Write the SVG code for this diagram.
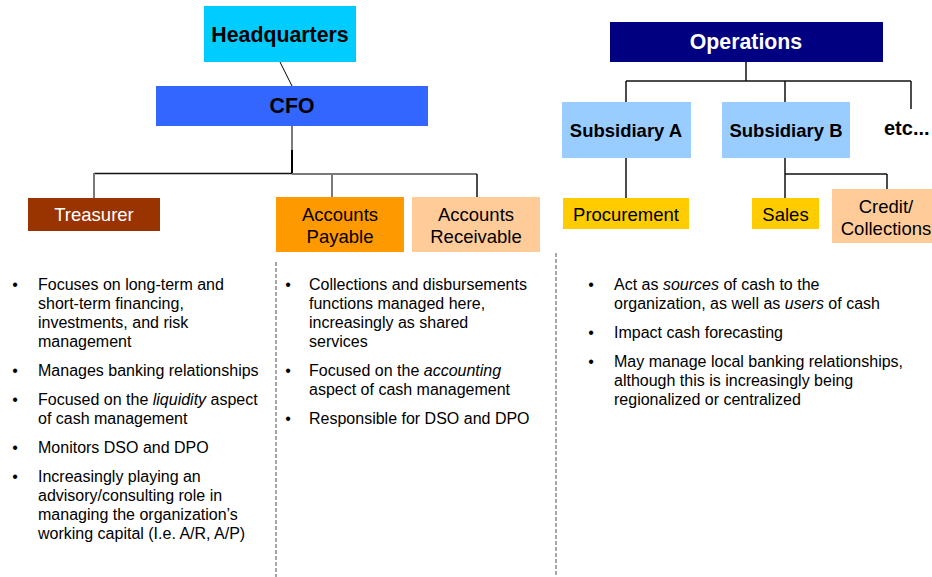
<svg xmlns="http://www.w3.org/2000/svg" width="932" height="577" viewBox="0 0 932 577">
  <style>
    .bold { font-family: "Liberation Sans", Arial, sans-serif; font-weight: bold; fill: #000; }
    .lbl { font-family: "Liberation Sans", Arial, sans-serif; font-size: 18.5px; fill: #000; }
    .body { font-family: "Liberation Sans", Arial, sans-serif; font-size: 16px; fill: #000; }
    .it { font-style: italic; }
    .dark { stroke: #111; stroke-width: 1.5; fill: none; }
    .grey { stroke: #7a7a7a; stroke-width: 2; fill: none; }
    .sep { stroke: #8a8a8a; stroke-width: 1.5; stroke-dasharray: 4 2; fill: none; }
  </style>
  <rect width="932" height="577" fill="#fff"/>

  <!-- connectors -->
  <g id="connectors">
    <line x1="280" y1="62" x2="292" y2="86" stroke="#000" stroke-width="1"/>
    <line class="grey" x1="292" y1="126" x2="292" y2="150"/>
    <line x1="292" y1="150" x2="292" y2="174" stroke="#000" stroke-width="2"/>
    <line class="dark" x1="94" y1="173.5" x2="292" y2="173.5"/>
    <line class="grey" x1="292" y1="174" x2="477" y2="174"/>
    <line class="grey" x1="94" y1="173" x2="94" y2="198"/>
    <line class="grey" x1="332" y1="174" x2="332" y2="197"/>
    <line class="dark" x1="477" y1="174" x2="477" y2="197"/>

    <line class="dark" x1="746" y1="62" x2="746" y2="81"/>
    <line class="dark" x1="626" y1="81" x2="911" y2="81"/>
    <line class="dark" x1="626" y1="81" x2="626" y2="102"/>
    <line class="dark" x1="785" y1="81" x2="785" y2="102"/>
    <line class="dark" x1="911" y1="81" x2="911" y2="109"/>
    <line class="dark" x1="626" y1="158" x2="626" y2="198"/>
    <line class="dark" x1="785" y1="158" x2="785" y2="198"/>
    <line class="dark" x1="785" y1="174" x2="887" y2="174"/>
    <line class="dark" x1="887" y1="174" x2="887" y2="189"/>

    <line class="sep" x1="276" y1="262" x2="276" y2="577"/>
    <line class="sep" x1="556" y1="253" x2="556" y2="577"/>
  </g>

  <!-- headquarters side -->
  <g id="headquarters">
    <rect x="204" y="6" width="152" height="56" fill="#00CCFF"/>
    <text class="bold" x="280" y="42" font-size="21.3" text-anchor="middle">Headquarters</text>
  </g>
  <g id="cfo">
    <rect x="156" y="86" width="272" height="40" fill="#3366FF"/>
    <text class="bold" x="292" y="113" font-size="21.3" text-anchor="middle">CFO</text>
  </g>
  <g id="treasurer">
    <rect x="28" y="198" width="132" height="33" fill="#993300"/>
    <text class="lbl" x="94" y="221" text-anchor="middle" fill="#fff" style="fill:#fff">Treasurer</text>
  </g>
  <g id="accounts-payable">
    <rect x="276" y="197" width="128" height="55" fill="#FF9900"/>
    <text class="lbl" x="340" y="221" text-anchor="middle">Accounts</text>
    <text class="lbl" x="340" y="243" text-anchor="middle">Payable</text>
  </g>
  <g id="accounts-receivable">
    <rect x="412" y="197" width="128" height="55" fill="#FFCC99"/>
    <text class="lbl" x="476" y="221" text-anchor="middle">Accounts</text>
    <text class="lbl" x="476" y="243" text-anchor="middle">Receivable</text>
  </g>

  <!-- operations side -->
  <g id="operations">
    <rect x="610" y="22" width="273" height="40" fill="#000080"/>
    <text class="bold" x="746" y="49" font-size="21.3" text-anchor="middle" style="fill:#fff">Operations</text>
  </g>
  <g id="subsidiary-a">
    <rect x="562" y="102" width="129" height="56" fill="#99CCFF"/>
    <text class="bold" x="626" y="137" font-size="18.5" text-anchor="middle">Subsidiary A</text>
  </g>
  <g id="subsidiary-b">
    <rect x="722" y="102" width="128" height="56" fill="#99CCFF"/>
    <text class="bold" x="786" y="137" font-size="18.5" text-anchor="middle">Subsidiary B</text>
  </g>
  <g id="etc">
    <text class="bold" x="884" y="135" font-size="20">etc...</text>
  </g>
  <g id="procurement">
    <rect x="563" y="198" width="126" height="31" fill="#FFCC00"/>
    <text class="lbl" x="626" y="221" text-anchor="middle">Procurement</text>
  </g>
  <g id="sales">
    <rect x="752" y="198" width="67" height="31" fill="#FFCC00"/>
    <text class="lbl" x="785.5" y="221" text-anchor="middle">Sales</text>
  </g>
  <g id="credit-collections">
    <rect x="832" y="189" width="110" height="54" fill="#FFCC99"/>
    <text class="lbl" x="886" y="213" text-anchor="middle">Credit/</text>
    <text class="lbl" x="886" y="235" text-anchor="middle">Collections</text>
  </g>

  <!-- treasury responsibilities -->
  <g id="treasurer-notes" class="body">
    <text class="body" x="15" y="290" text-anchor="middle">•</text>
    <text class="body" x="38" y="290">Focuses on long-term and</text>
    <text class="body" x="38" y="309">short-term financing,</text>
    <text class="body" x="38" y="328">investments, and risk</text>
    <text class="body" x="38" y="347">management</text>
    <text class="body" x="15" y="376" text-anchor="middle">•</text>
    <text class="body" x="38" y="376">Manages banking relationships</text>
    <text class="body" x="15" y="405" text-anchor="middle">•</text>
    <text class="body" x="38" y="405">Focused on the <tspan class="it">liquidity</tspan> aspect</text>
    <text class="body" x="38" y="424">of cash management</text>
    <text class="body" x="15" y="453" text-anchor="middle">•</text>
    <text class="body" x="38" y="453">Monitors DSO and DPO</text>
    <text class="body" x="15" y="482" text-anchor="middle">•</text>
    <text class="body" x="38" y="482">Increasingly playing an</text>
    <text class="body" x="38" y="501">advisory/consulting role in</text>
    <text class="body" x="38" y="520">managing the organization’s</text>
    <text class="body" x="38" y="539">working capital (I.e. A/R, A/P)</text>
  </g>

  <!-- payables / receivables responsibilities -->
  <g id="accounts-notes">
    <text class="body" x="288" y="290" text-anchor="middle">•</text>
    <text class="body" x="309" y="290">Collections and disbursements</text>
    <text class="body" x="309" y="309">functions managed here,</text>
    <text class="body" x="309" y="328">increasingly as shared</text>
    <text class="body" x="309" y="347">services</text>
    <text class="body" x="288" y="376" text-anchor="middle">•</text>
    <text class="body" x="309" y="376">Focused on the <tspan class="it">accounting</tspan></text>
    <text class="body" x="309" y="395">aspect of cash management</text>
    <text class="body" x="288" y="424" text-anchor="middle">•</text>
    <text class="body" x="309" y="424">Responsible for DSO and DPO</text>
  </g>

  <!-- subsidiary responsibilities -->
  <g id="operations-notes">
    <text class="body" x="591" y="290" text-anchor="middle">•</text>
    <text class="body" x="614" y="290">Act as <tspan class="it">sources</tspan> of cash to the</text>
    <text class="body" x="614" y="309">organization, as well as <tspan class="it">users</tspan> of cash</text>
    <text class="body" x="591" y="338" text-anchor="middle">•</text>
    <text class="body" x="614" y="338">Impact cash forecasting</text>
    <text class="body" x="591" y="367" text-anchor="middle">•</text>
    <text class="body" x="614" y="367">May manage local banking relationships,</text>
    <text class="body" x="614" y="386">although this is increasingly being</text>
    <text class="body" x="614" y="405">regionalized or centralized</text>
  </g>
</svg>
